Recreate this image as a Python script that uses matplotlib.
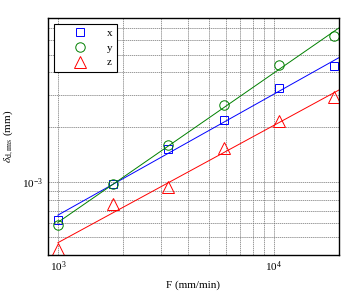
import numpy as np
import matplotlib
matplotlib.use('Agg')
from matplotlib import pyplot as plt

# feed rates (mm/min) and rms deviations (mm)
F = [1000, 1800, 3250, 5900, 10600, 19000]
dx = [6.25e-4, 9.84e-4, 1.53e-3, 2.20e-3, 3.28e-3, 4.36e-3]
dy = [5.87e-4, 9.75e-4, 1.61e-3, 2.65e-3, 4.38e-3, 6.34e-3]
dz = [4.31e-4, 7.62e-4, 9.39e-4, 1.55e-3, 2.18e-3, 2.95e-3]

plt.rcParams['font.family'] = 'Liberation Serif'
plt.rcParams['mathtext.fontset'] = 'stix'

fig = plt.figure(figsize=(3.54, 2.96), dpi=100)
ax = fig.add_axes([0.1356, 0.1385, 0.822, 0.8005])

series = [(dx, 'x', 's', '#0000ff', 5.3), (dy, 'y', 'o', '#008000', 6.8), (dz, 'z', '^', '#ff0000', 8)]
Ff = np.array([1000, 25000])
for d, lab, m, c, ms in series:
    ax.plot(F, d, m, mfc='none', mec=c, ms=ms, mew=0.7, label=lab)
    # power-law fit
    p = np.polyfit(np.log10(F), np.log10(d), 1)
    ax.plot(Ff, 10 ** np.polyval(p, np.log10(Ff)), '-', color=c, lw=0.7)

ax.set_xscale('log')
ax.set_yscale('log')
ax.set_xlim(900, 20000)
ax.set_ylim(4.0e-4, 7.95e-3)
ax.grid(True, which='both', color='0.45', linestyle=(0, (2, 1)), linewidth=0.5)
ax.tick_params(which='both', direction='in', labelsize=8, length=0)
ax.yaxis.set_minor_formatter(matplotlib.ticker.NullFormatter())
ax.xaxis.set_minor_formatter(matplotlib.ticker.NullFormatter())
for s in ax.spines.values():
    s.set_linewidth(1.0)

ax.set_xlabel('F (mm/min)', fontsize=8)
ax.set_ylabel(r'$\delta_{\mathrm{d,rms}}$ (mm)', fontsize=8)

leg = ax.legend(loc='upper left', fontsize=8, frameon=True, fancybox=False,
                edgecolor='black', framealpha=1, markerfirst=True,
                handlelength=4.0, handletextpad=0.4, borderaxespad=0.5,
                labelspacing=0.45)
leg.get_frame().set_linewidth(0.8)

plt.savefig('out.png', dpi=100)
